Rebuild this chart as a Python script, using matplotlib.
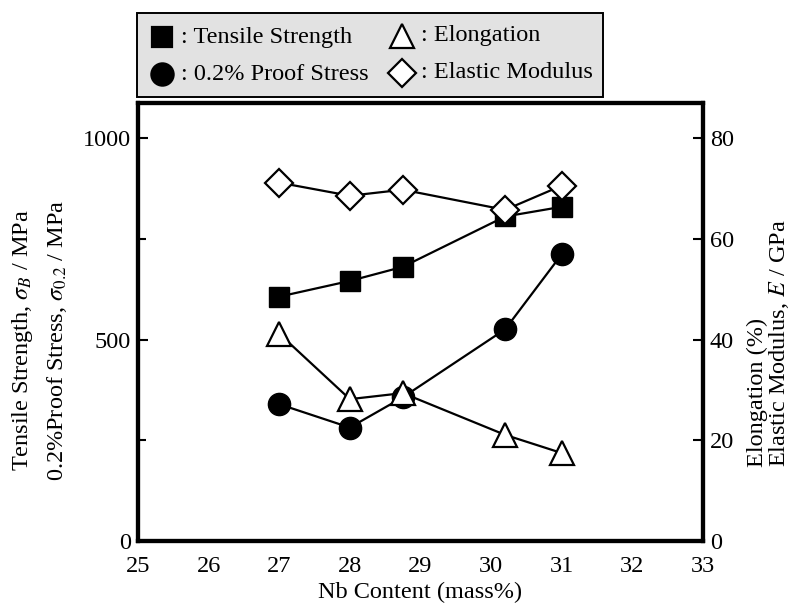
import matplotlib.pyplot as plt
from matplotlib.lines import Line2D
from matplotlib.patches import Rectangle
from matplotlib.ticker import MultipleLocator

plt.rcParams['font.family'] = ['Liberation Serif', 'DejaVu Serif']
plt.rcParams['mathtext.fontset'] = 'stix'

# data
nb = [27, 28, 28.75, 30.2, 31]
tensile = [607, 646, 681, 806, 830]
proof = [340, 282, 357, 526, 712]
elong = [41.2, 28.2, 29.4, 21.1, 17.5]
modulus = [71.2, 68.6, 69.8, 65.8, 70.6]

xticks = [25, 26, 27, 28, 29, 30, 31, 32, 33]

fig = plt.figure(figsize=(8.07, 6.08), dpi=100)
ax = fig.add_axes([0.171, 0.110, 0.700, 0.7204])
ax2 = ax.twinx()

fs = 17.5
lw = 1.6

ax.plot(nb, tensile, color='black', lw=lw, marker='s', ms=15, mfc='black', mec='black', zorder=3)
ax.plot(nb, proof, color='black', lw=lw, marker='o', ms=16, mfc='black', mec='black', zorder=3)
ax2.plot(nb, elong, color='black', lw=lw, marker='^', ms=17, mfc='white', mec='black', mew=1.6, zorder=4)
ax2.plot(nb, modulus, color='black', lw=lw, marker='D', ms=14, mfc='white', mec='black', mew=1.6, zorder=4)

ax.set_xlim(25, 33)
ax.set_ylim(0, 1087.5)
ax2.set_ylim(0, 87)
ax.set_xticks(xticks)
ax.set_yticks([0, 500, 1000])
ax.yaxis.set_minor_locator(MultipleLocator(250))
ax2.set_yticks([0, 20, 40, 60, 80])

for a in (ax, ax2):
    for s in a.spines.values():
        s.set_linewidth(3)
    a.tick_params(direction='in', length=7, width=1.5, labelsize=fs, pad=5)
    a.tick_params(which='minor', direction='in', length=6, width=1.5)
ax.tick_params(axis='x', length=0, pad=11)
ax2.tick_params(axis='y', right=True, left=False)
ax.tick_params(axis='y', right=False)

fig.text(0.521, 0.025, 'Nb Content (mass%)', ha='center', va='center', fontsize=fs)

fig.text(0.028, 0.44, 'Tensile Strength, $\\sigma_B$ / MPa', rotation=90,
         ha='center', va='center', fontsize=fs)
fig.text(0.071, 0.44, '0.2%Proof Stress, $\\sigma_{0.2}$ / MPa', rotation=90,
         ha='center', va='center', fontsize=fs)
fig.text(0.939, 0.232, 'Elongation (%)', rotation=90, ha='center', va='bottom', fontsize=fs)
fig.text(0.965, 0.232, 'Elastic Modulus, $E$ / GPa', rotation=90, ha='center', va='bottom', fontsize=fs)

# legend box drawn by hand
W, H = 807.0, 608.0
fig.add_artist(Rectangle((137 / W, 1 - 97 / H), (603 - 137) / W, (97 - 13) / H,
                         transform=fig.transFigure, facecolor='#e2e2e2',
                         edgecolor='black', lw=1.4))
entries = [
    ('s', 'black', 162, 37, ': Tensile Strength', 15),
    ('o', 'black', 162, 74, ': 0.2% Proof Stress', 16),
    ('^', 'white', 402, 36, ': Elongation', 17),
    ('D', 'white', 402, 73, ': Elastic Modulus', 14),
]
for m, fc, px, py, label, ms in entries:
    fig.add_artist(Line2D([px / W], [1 - py / H], transform=fig.transFigure,
                          marker=m, ms=ms, mfc=fc, mec='black', mew=1.6, ls='none'))
    fig.text((px + 19) / W, 1 - py / H, label, ha='left', va='center', fontsize=fs)

fig.savefig('out.png', dpi=100)
